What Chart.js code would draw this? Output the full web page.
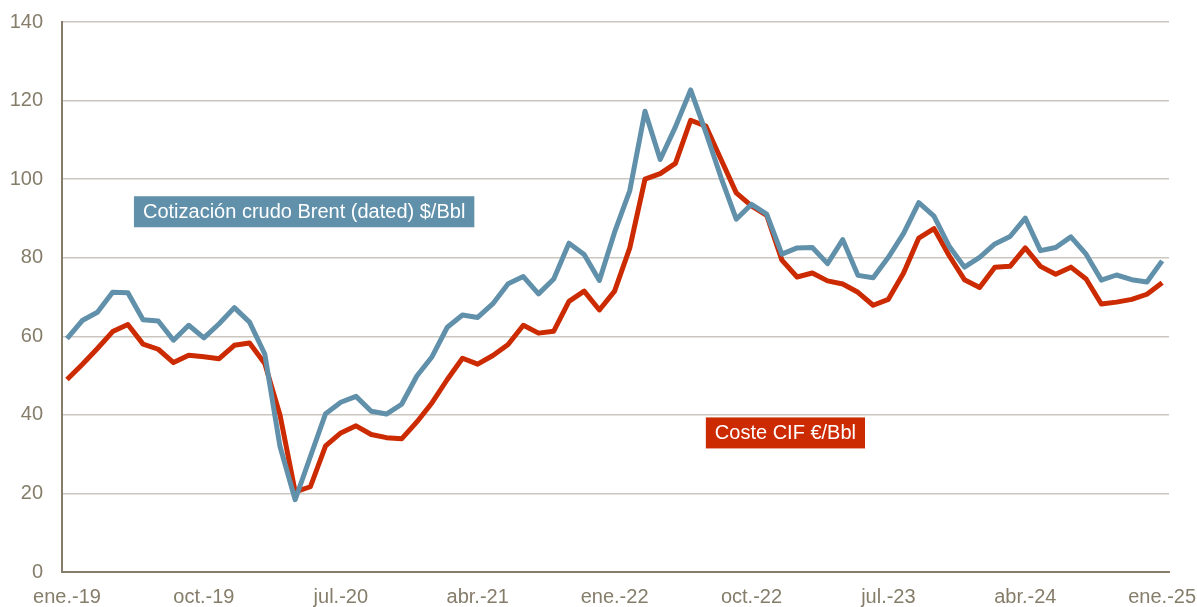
<!DOCTYPE html>
<html lang="es">
<head>
<meta charset="utf-8">
<script src="https://cdn.jsdelivr.net/npm/chart.js@4"></script>
<style>
  html, body { margin: 0; padding: 0; background: #fff; }
  #wrap { width: 1197px; height: 607px; }
</style>
</head>
<body>
<div id="wrap"><canvas id="grafico" width="1197" height="607"></canvas></div>
<script>
// etiquetas del eje X (una cada 9 meses, ene.-19 ... ene.-25)
var tickLabels = ['ene.-19', 'oct.-19', 'jul.-20', 'abr.-21', 'ene.-22', 'oct.-22', 'jul.-23', 'abr.-24', 'ene.-25'];
var tickStep = 9;

// Cotización crudo Brent (dated) $/Bbl, mensual ene.-19 .. ene.-25
var brent = [
  59.4, 64.0, 66.1, 71.2, 71.1, 64.2, 63.9, 59.0, 62.8, 59.6, 63.2, 67.3,
  63.6, 55.5, 32.0, 18.4, 29.4, 40.3, 43.2, 44.7, 40.9, 40.2, 42.7, 49.9,
  54.8, 62.3, 65.4, 64.8, 68.3, 73.4, 75.2, 70.8, 74.6, 83.7, 80.8, 74.2,
  86.5, 97.1, 117.3, 105.0, 113.3, 122.7, 111.9, 100.4, 89.8, 93.6, 91.1, 80.9,
  82.5, 82.6, 78.5, 84.6, 75.5, 74.9, 80.1, 86.2, 94.0, 90.6, 82.9, 77.6,
  80.1, 83.5, 85.4, 90.1, 81.8, 82.6, 85.3, 80.9, 74.3, 75.6, 74.4, 73.8,
  79.2
];

// Coste CIF €/Bbl, mensual ene.-19 .. ene.-25
var costeCif = [
  49.0, 52.8, 56.9, 61.2, 63.0, 58.0, 56.7, 53.3, 55.2, 54.8, 54.3, 57.7,
  58.3, 53.1, 40.0, 20.4, 21.7, 32.1, 35.4, 37.2, 35.0, 34.2, 33.9, 38.2,
  43.1, 49.0, 54.4, 52.9, 55.1, 57.9, 62.8, 60.8, 61.3, 68.9, 71.5, 66.7,
  71.5, 82.5, 100.0, 101.4, 104.0, 115.0, 113.5, 105.0, 96.5, 93.2, 90.8, 79.4,
  75.1, 76.1, 74.1, 73.3, 71.2, 67.9, 69.4, 76.1, 85.0, 87.4, 80.5, 74.4,
  72.4, 77.6, 77.8, 82.5, 77.8, 75.8, 77.6, 74.6, 68.2, 68.7, 69.4, 70.7,
  73.6
];

var nombreBrent = 'Cotización crudo Brent (dated) $/Bbl';
var nombreCif = 'Coste CIF €/Bbl';

var azul = '#6190aa';
var rojo = '#cc2a00';
var colorEjes = '#857d6a';
var fuente = "'Liberation Sans', Arial, sans-serif";

function puntos(serie) {
  return serie.map(function (v, i) { return { x: i, y: v }; });
}

// etiquetas con caja de color, ancladas en coordenadas de datos
var etiquetas = [
  { texto: nombreBrent, fondo: azul, x: 4.4, y: 91.7 },
  { texto: nombreCif, fondo: rojo, x: 42.0, y: 35.4 }
];

var pluginEtiquetas = {
  id: 'etiquetas',
  afterDatasetsDraw: function (chart) {
    var ctx = chart.ctx;
    var sx = chart.scales.x, sy = chart.scales.y;
    ctx.save();
    ctx.font = '20px ' + fuente;
    ctx.textBaseline = 'middle';
    etiquetas.forEach(function (e) {
      var px = sx.getPixelForValue(e.x);
      var py = sy.getPixelForValue(e.y);
      var w = ctx.measureText(e.texto).width + 18;
      var h = 31;
      ctx.fillStyle = e.fondo;
      ctx.fillRect(px, py - h / 2, w, h);
      ctx.fillStyle = '#ffffff';
      ctx.fillText(e.texto, px + 9, py + 1);
    });
    ctx.restore();
  }
};

new Chart(document.getElementById('grafico'), {
  type: 'line',
  data: {
    datasets: [{
      label: nombreBrent,
      data: puntos(brent),
      borderColor: azul,
      borderWidth: 5,
      pointRadius: 0,
      tension: 0,
      fill: false,
      borderJoinStyle: 'round'
    }, {
      label: nombreCif,
      data: puntos(costeCif),
      borderColor: rojo,
      borderWidth: 5,
      pointRadius: 0,
      tension: 0,
      fill: false,
      borderJoinStyle: 'round'
    }]
  },
  options: {
    responsive: false,
    animation: false,
    devicePixelRatio: 1,
    layout: { padding: { top: 22, right: 28, bottom: 0, left: 0 } },
    plugins: {
      legend: { display: false },
      tooltip: { enabled: false }
    },
    scales: {
      x: {
        type: 'linear',
        min: -0.33,
        max: 72.45,
        afterFit: function (scale) {
          scale.height = 35;
          scale.paddingLeft = 0;
          scale.paddingRight = 0;
        },
        grid: { display: false, drawTicks: false },
        border: { display: true, color: colorEjes, width: 2 },
        ticks: {
          stepSize: tickStep,
          autoSkip: false,
          maxRotation: 0,
          includeBounds: false,
          padding: 13,
          color: colorEjes,
          font: { family: fuente, size: 20 },
          callback: function (v) {
            if (v % tickStep !== 0) return '';
            return tickLabels[v / tickStep];
          }
        }
      },
      y: {
        min: 0,
        max: 140,
        afterFit: function (scale) {
          scale.width = 62;
          scale.paddingTop = 0;
          scale.paddingBottom = 0;
        },
        grid: { color: '#cbc7bf', lineWidth: 1.5, drawTicks: false },
        border: { display: true, color: colorEjes, width: 2 },
        ticks: {
          stepSize: 20,
          padding: 19,
          color: colorEjes,
          font: { family: fuente, size: 20 }
        }
      }
    }
  },
  plugins: [pluginEtiquetas]
});
</script>
</body>
</html>
